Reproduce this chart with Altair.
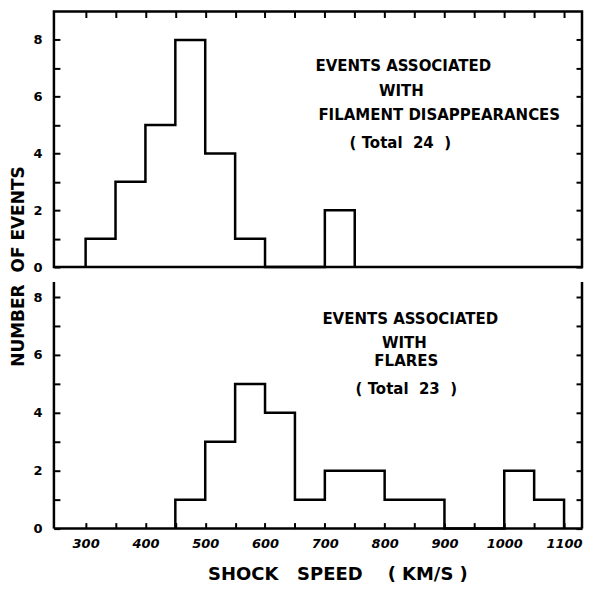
import altair as alt
import pandas as pd

# ---- data ----
top_edges = [300, 350, 400, 450, 500, 550, 600, 650, 700, 750]
top_counts = [1, 3, 5, 8, 4, 1, 0, 0, 2]
bottom_edges = [450, 500, 550, 600, 650, 700, 750, 800, 850, 900, 950, 1000, 1050, 1100]
bottom_counts = [1, 3, 5, 4, 1, 2, 2, 1, 1, 0, 0, 2, 1]
x_ticks = list(range(300, 1101, 50))
y_ticks = list(range(0, 9))
NB = "\u00a0"
top_notes = ["EVENTS ASSOCIATED", "WITH", "FILAMENT DISAPPEARANCES",
             f"({NB}Total{NB}{NB}24{NB}{NB})"]
bottom_notes = ["EVENTS ASSOCIATED", "WITH", "FLARES",
                f"({NB}Total{NB}{NB}23{NB}{NB})"]
x_title = f"SHOCK{NB}{NB}{NB}SPEED{NB}{NB}{NB}{NB}({NB}KM/S{NB})"
y_title = f"NUMBER{NB}{NB}OF{NB}EVENTS"

FONT = "DejaVu Sans"
W = 529
H_TOP = 256
H_BOT = 247
LW = 2.5


def steps(edges, counts):
    xs = [edges[0]] + edges[:-1] + [edges[-1], edges[-1]]
    ys = [0] + counts + [counts[-1], 0]
    return pd.DataFrame({"speed": xs, "n": ys, "i": list(range(len(xs)))})


xscale = alt.Scale(domain=[247, 1130], nice=False, zero=False)

tick_style = dict(tickSize=6, tickWidth=2, tickColor="black", domain=False, grid=False)


def y_left(title=None, **kw):
    args = dict(orient="left", values=y_ticks, format="d", offset=-6,
                labelExpr="datum.value % 2 == 0 ? datum.label : ''",
                labelPadding=12, labelFont=FONT, labelFontSize=13,
                labelFontWeight="bold", labelColor="black", **tick_style)
    if title:
        args.update(title=title, titleX=-41, titleAngle=270, titleAlign="center",
                    titleBaseline="middle", titleFont=FONT, titleFontSize=17,
                    titleFontWeight="bold", titleColor="black")
    else:
        args.update(title=None)
    args.update(kw)
    return alt.Axis(**args)


# inward ticks on the right edge: a left-oriented axis pushed across the plot
y_right = alt.Axis(orient="left", offset=-W, values=y_ticks, labels=False,
                   title=None, **tick_style)


def notes_layer(notes, xs, ys):
    layers = []
    for t, px, py in zip(notes, xs, ys):
        layers.append(
            alt.Chart(pd.DataFrame({"t": [t]}))
            .mark_text(font=FONT, fontSize=15, fontWeight="bold", color="black",
                       align="center", baseline="middle")
            .encode(x=alt.value(px), y=alt.value(py), text="t:N")
        )
    return layers


# ---- top panel ----
top_df = steps(top_edges, top_counts)
top_y = alt.Scale(domain=[0, 9], nice=False)

top_line = alt.Chart(top_df).mark_line(interpolate="step-after", color="black",
                                       strokeWidth=LW).encode(
    # inward ticks along the top edge: a bottom axis pushed up to the top
    x=alt.X("speed:Q", scale=xscale,
            axis=alt.Axis(orient="bottom", offset=-H_TOP, values=x_ticks,
                          labels=False, title=None, **tick_style)),
    y=alt.Y("n:Q", scale=top_y, axis=y_left(y_title, titleY=255)),
    order="i:Q",
)
top_ghost = alt.Chart(top_df).mark_point(opacity=0).encode(
    x=alt.X("speed:Q", scale=xscale, axis=None),
    y=alt.Y("n:Q", scale=top_y, axis=y_right),
)
top = alt.layer(
    top_line, top_ghost,
    *notes_layer(top_notes, [350, 348, 386, 347], [55, 80, 104, 132]),
).resolve_axis(x="independent", y="independent").properties(
    width=W, height=H_TOP,
    view=alt.ViewBackground(stroke="black", strokeWidth=LW),
)

# ---- bottom panel ----
bot_df = steps(bottom_edges, bottom_counts)
bot_y = alt.Scale(domain=[0, 8.52], nice=False)

bot_line = alt.Chart(bot_df).mark_line(interpolate="step-after", color="black",
                                       strokeWidth=LW).encode(
    x=alt.X("speed:Q", scale=xscale,
            axis=alt.Axis(orient="bottom", offset=-6, values=x_ticks, format="d",
                          labelExpr="datum.value % 100 == 0 ? datum.label : ''",
                          labelPadding=9, labelFont=FONT, labelFontSize=13,
                          labelFontWeight="bold", labelFontStyle="italic",
                          labelColor="black", labelFlush=False,
                          title=x_title, titleX=284, titleY=52, titleAlign="center",
                          titleBaseline="middle", titleFont=FONT, titleFontSize=18,
                          titleFontWeight="bold", titleColor="black",
                          **tick_style)),
    y=alt.Y("n:Q", scale=bot_y, axis=y_left()),
    order="i:Q",
)
bot_ghost = alt.Chart(bot_df).mark_point(opacity=0).encode(
    x=alt.X("speed:Q", scale=xscale, axis=None),
    y=alt.Y("n:Q", scale=bot_y, axis=y_right),
)
one = pd.DataFrame({"k": [0]})
frame_left = alt.Chart(one).mark_rule(color="black", strokeWidth=LW).encode(
    x=alt.value(0), y=alt.value(0), y2=alt.value(H_BOT))
frame_right = alt.Chart(one).mark_rule(color="black", strokeWidth=LW).encode(
    x=alt.value(W), y=alt.value(0), y2=alt.value(H_BOT))
frame_bottom = alt.Chart(one).mark_rule(color="black", strokeWidth=LW).encode(
    x=alt.value(0), x2=alt.value(W), y=alt.value(H_BOT))

bottom = alt.layer(
    frame_left, frame_right, frame_bottom, bot_line, bot_ghost,
    *notes_layer(bottom_notes, [357, 351, 353, 353], [37, 61, 79, 107]),
).resolve_axis(x="independent", y="independent").properties(
    width=W, height=H_BOT,
)

chart = alt.vconcat(top, bottom, spacing=15, bounds="flush").properties(
    padding={"left": 0, "top": 0, "right": 0, "bottom": 0},
    background="white",
).configure_view(strokeWidth=0)

chart.save("out.html", embed_options={"renderer": "svg", "actions": False})
